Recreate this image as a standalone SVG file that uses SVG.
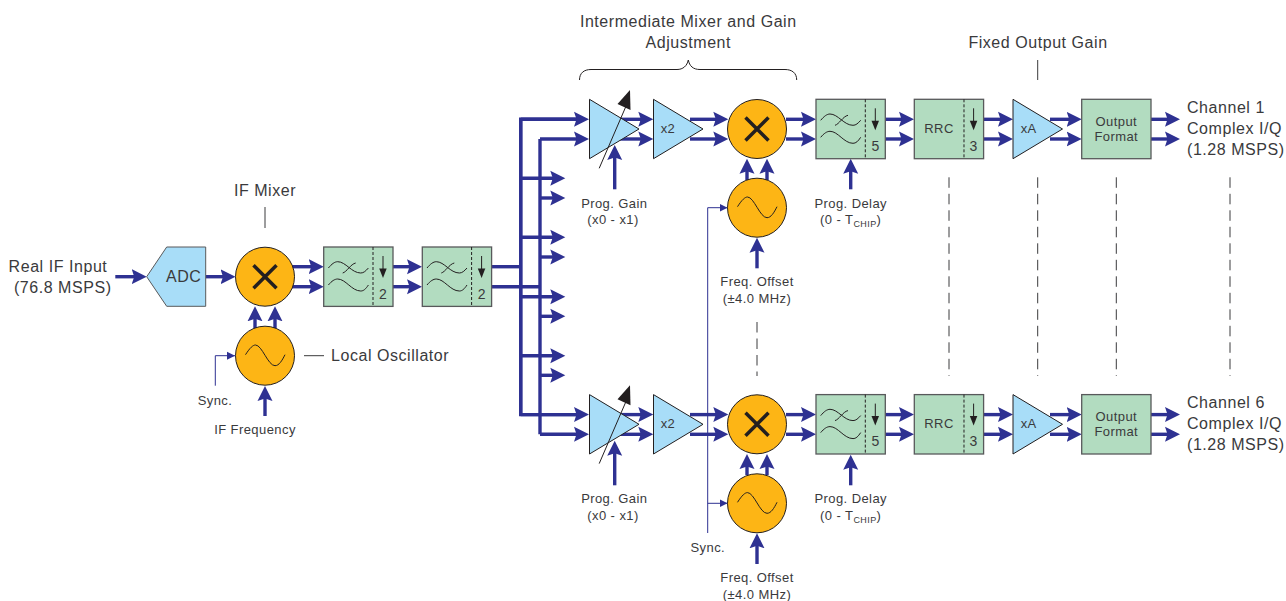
<svg xmlns="http://www.w3.org/2000/svg" xmlns:xlink="http://www.w3.org/1999/xlink" width="1286" height="601" viewBox="0 0 1286 601">
<style>
text{font-family:"Liberation Sans",Arial,sans-serif;fill:#3a3a3c}
.b{font-size:16px;letter-spacing:.55px}
.s{font-size:13px;letter-spacing:.42px}
.n{font-size:14px}
.m{text-anchor:middle}
.w{fill:none;stroke:#2e3192;stroke-width:3.4}
.wa{fill:none;stroke:#2e3192;stroke-width:3.4;marker-end:url(#ah)}
.t{fill:none;stroke:#2e3192;stroke-width:1}
.ta{fill:none;stroke:#2e3192;stroke-width:1;marker-end:url(#tah)}
.l{fill:none;stroke:#3a3a3c;stroke-width:1}
.d{fill:none;stroke:#3a3a3c;stroke-width:1;stroke-dasharray:10.5 6}
.k{fill:none;stroke:#231f20;stroke-width:1}
</style>
<defs>
<marker id="ah" markerUnits="userSpaceOnUse" markerWidth="16" markerHeight="16" viewBox="0 0 16 16" refX="5" refY="8" orient="auto"><path d="M0,.5 L15,8 L0,15.500 L2.500,8z" fill="#2e3192"/></marker>
<marker id="tah" markerUnits="userSpaceOnUse" markerWidth="9" markerHeight="9" viewBox="0 0 9 9" refX="8" refY="4.500" orient="auto"><path d="M0,.5 L8,4.500 L0,8.500z" fill="#2e3192"/></marker>
<g id="filter">
<rect x="0" y="0" width="69.300" height="59.400" fill="#b2dcc0" stroke="#58595b" stroke-width="1.300"/>
<path class="k" d="M49.300,0V59.400" stroke-dasharray="3 2"/>
<path class="k" d="M4.700,21C8,17 11,14.700 14,14.700C22,14.700 28,26 37,26C40,26 42,24 44.700,21M19,26C23,25 27,17 32,16M4.700,38C8,34 11,32 14,32C22,32 28,44 37,44C40,44 42,42 44.700,38"/>
<path class="k" d="M59.300,9V23"/><path d="M55.500,21.500H63L59.300,31z" fill="#231f20"/>
</g>
<g id="rrc">
<rect x="0" y="0" width="69.300" height="59.400" fill="#b2dcc0" stroke="#58595b" stroke-width="1.300"/>
<path class="k" d="M49.700,0V59.400" stroke-dasharray="3 2"/>
<path class="k" d="M59.300,9V23"/><path d="M55.500,21.500H63L59.300,31z" fill="#231f20"/>
</g>
<rect id="box" x="0" y="0" width="69.300" height="59.400" fill="#b2dcc0" stroke="#58595b" stroke-width="1.300"/>
<path id="amp" d="M0,0L49.500,29.700L0,59.400z" fill="#a8ddf8" stroke="#231f20" stroke-width="1"/>
<g id="mix"><circle r="29.500" fill="#fdb515" stroke="#231f20" stroke-width="1"/><path d="M-11.500,-11.500L11.500,11.500M11.500,-11.500L-11.500,11.500" stroke="#231f20" stroke-width="3.500" fill="none"/></g>
<g id="osc"><circle r="29.500" fill="#fdb515" stroke="#231f20" stroke-width="1"/><path class="k" d="M-19.500,-1C-15,-8 -12,-10.700 -9.500,-10.700C-3,-10.700 3,10 10,10C14,10 17,5 20,-1"/></g>
<g id="vg"><path class="k" d="M9.700,69.300L37,6"/><path d="M40.500,-9L41,11L28,5z" fill="#231f20"/></g>
</defs>
<g id="connectors">
<path class="wa" d="M115.300,276.700H136.700"/>
<path class="wa" d="M205.700,276.700H225.500"/>
<path class="wa" d="M290,266.700H313.700"/><path class="wa" d="M290,286.700H313.700"/>
<path class="wa" d="M393,266.700H412"/><path class="wa" d="M393,286.700H412"/>
<path class="wa" d="M255,330V316.300"/><path class="wa" d="M275,330V316.300"/>
<path class="wa" d="M265,416V396"/>
<path class="w" d="M491.700,266.700H520.700"/><path class="w" d="M491.700,286.700H540"/>
<path class="wa" d="M579,119.300H520.700V414.600H579" style="marker-end:none"/>
<path class="w" d="M520.700,119.300V414.600"/>
<path class="wa" d="M520.700,119.300H579"/><path class="wa" d="M520.700,414.600H579"/>
<path class="wa" d="M540,139H579V139"/><path class="wa" d="M540,434.300H579"/>
<path class="w" d="M540,139V434.300"/>
<path class="wa" d="M520.700,178.300H555.300"/><path class="wa" d="M540,198H555.300"/>
<path class="wa" d="M520.700,237.300H555.300"/><path class="wa" d="M540,257H555.300"/>
<path class="wa" d="M520.700,296.700H555.300"/><path class="wa" d="M540,316.300H555.300"/>
<path class="wa" d="M520.700,355.700H555.300"/><path class="wa" d="M540,375.300H555.300"/>
<path class="wa" d="M620,119.300H643.300"/><path class="wa" d="M620,139H643.300"/>
<path class="wa" d="M690,119.300H718.300"/><path class="wa" d="M690,139H718.300"/>
<path class="wa" d="M786,119.300H806"/><path class="wa" d="M786,139H806"/>
<path class="wa" d="M885.300,119.300H904"/><path class="wa" d="M885.300,139H904"/>
<path class="wa" d="M983.300,119.300H1003"/><path class="wa" d="M983.300,139H1003"/>
<path class="wa" d="M1050,119.300H1071.700"/><path class="wa" d="M1050,139H1071.700"/>
<path class="wa" d="M1151,119.300H1170"/><path class="wa" d="M1151,139H1170"/>
<path class="wa" d="M747,180V168.700"/><path class="wa" d="M767,180V168.700"/>
<path class="wa" d="M757,268.300V247.700"/>
<path class="wa" d="M614.700,189.300V155"/><path class="wa" d="M850.700,189.300V168.700"/>
<path class="wa" d="M620,414.600H643.300"/><path class="wa" d="M620,434.300H643.300"/>
<path class="wa" d="M690,414.600H718.300"/><path class="wa" d="M690,434.300H718.300"/>
<path class="wa" d="M786,414.600H806"/><path class="wa" d="M786,434.300H806"/>
<path class="wa" d="M885.300,414.600H904"/><path class="wa" d="M885.300,434.300H904"/>
<path class="wa" d="M983.300,414.600H1003"/><path class="wa" d="M983.300,434.300H1003"/>
<path class="wa" d="M1050,414.600H1071.700"/><path class="wa" d="M1050,434.300H1071.700"/>
<path class="wa" d="M1151,414.600H1170"/><path class="wa" d="M1151,434.300H1170"/>
<path class="wa" d="M747,475V464"/><path class="wa" d="M767,475V464"/>
<path class="wa" d="M757,564V543.300"/>
<path class="wa" d="M614.700,485.300V450.700"/><path class="wa" d="M850.700,485.300V464.700"/>
<path class="ta" d="M215.300,385.700V355.700H235"/>
<path class="t" d="M707.700,533V207.700"/>
<path class="ta" d="M707.700,207.700H727.500"/><path class="ta" d="M707.700,503.300H727.500"/>
<path class="l" d="M265,207V228"/><path class="l" d="M304,355.700H324"/><path class="l" d="M1037.700,60V80"/>
<path class="d" d="M757,322V376"/>
<path class="d" d="M949,177.300V376"/><path class="d" d="M1037.700,177.300V376"/><path class="d" d="M1116.300,177.300V376"/><path class="d" d="M1230,177.300V376"/>
<path class="k" d="M579.500,80C579.500,73 584,69.500 591,69.500H677C683,69.500 687,66 688.300,60C689.500,66 693,69.500 700,69.500H785C792,69.500 796.700,73 796.700,80" stroke="#3a3a3c"/>
</g>
<g id="labels">
<text class="b" x="58" y="271.700" text-anchor="middle">Real IF Input</text>
<text class="b" x="62.700" y="293" text-anchor="middle">(76.8 MSPS)</text>
<text class="b m" x="265" y="196">IF Mixer</text>
<text class="b" x="331" y="361">Local Oscillator</text>
<text class="s m" x="215" y="405">Sync.</text>
<text class="s m" x="255" y="434">IF Frequency</text>
<text class="b m" x="688.300" y="27">Intermediate Mixer and Gain</text>
<text class="b m" x="688.300" y="48">Adjustment</text>
<text class="b m" x="1038" y="48">Fixed Output Gain</text>
<text class="b" x="1187" y="113">Channel 1</text><text class="b" x="1187" y="134">Complex I/Q</text><text class="b" x="1187" y="155">(1.28 MSPS)</text>
<text class="b" x="1187" y="408.300">Channel 6</text><text class="b" x="1187" y="429.300">Complex I/Q</text><text class="b" x="1187" y="450.300">(1.28 MSPS)</text>
<text class="s m" x="614.300" y="207.700">Prog. Gain</text><text class="s m" x="613" y="224.300">(x0 - x1)</text>
<text class="s m" x="757" y="286">Freq. Offset</text><text class="s m" x="757" y="303">(±4.0 MHz)</text>
<text class="s m" x="850.700" y="207.700">Prog. Delay</text><text class="s m" x="850.700" y="224.300">(0 - T<tspan font-size="9" dy="3">CHIP</tspan><tspan dy="-3">)</tspan></text>
<text class="s m" x="614.300" y="502.700">Prog. Gain</text><text class="s m" x="613" y="520">(x0 - x1)</text>
<text class="s m" x="757" y="582">Freq. Offset</text><text class="s m" x="757" y="599">(±4.0 MHz)</text>
<text class="s m" x="850.700" y="502.700">Prog. Delay</text><text class="s m" x="850.700" y="519.700">(0 - T<tspan font-size="9" dy="3">CHIP</tspan><tspan dy="-3">)</tspan></text>
<text class="s m" x="707.800" y="551.700">Sync.</text>
</g>
<g id="adc"><path d="M146.700,276.700L166.700,247H205.700V306.300H166.700z" fill="#a8ddf8" stroke="#58595b" stroke-width="1"/><text class="b m" x="183.700" y="281.700">ADC</text></g>
<g id="if-mixer"><use href="#mix" x="265" y="276.700"/></g>
<g id="local-osc"><use href="#osc" x="265" y="355.700"/></g>
<g id="filter-a"><use href="#filter" x="323.700" y="247"/><text class="n m" x="383" y="299">2</text></g>
<g id="filter-b"><use href="#filter" x="422.300" y="247"/><text class="n m" x="481.600" y="299">2</text></g>
<g id="ch1-vga"><use href="#amp" x="589.500" y="99.300"/><use href="#vg" x="589.500" y="99"/></g>
<g id="ch1-x2"><use href="#amp" x="653.500" y="99.300"/><text class="s" x="660.700" y="132.700">x2</text></g>
<g id="ch1-mixer"><use href="#mix" x="757" y="129"/></g>
<g id="ch1-osc"><use href="#osc" x="757" y="207.700"/></g>
<g id="ch1-filter"><use href="#filter" x="816" y="99.300"/><text class="n m" x="875.300" y="151">5</text></g>
<g id="ch1-rrc"><use href="#rrc" x="914.300" y="99.300"/><text class="s m" x="939" y="132.700">RRC</text><text class="n m" x="973.500" y="151">3</text></g>
<g id="ch1-xa"><use href="#amp" x="1013" y="99.300"/><text class="s m" x="1028.700" y="132.700">xA</text></g>
<g id="ch1-out"><use href="#box" x="1081.700" y="99.300"/><text class="s m" x="1116.300" y="125.700">Output</text><text class="s m" x="1116.300" y="141">Format</text></g>
<g id="ch6-vga"><use href="#amp" x="589.500" y="394.600"/><use href="#vg" x="589.500" y="394.300"/></g>
<g id="ch6-x2"><use href="#amp" x="653.500" y="394.600"/><text class="s" x="660.700" y="428">x2</text></g>
<g id="ch6-mixer"><use href="#mix" x="757" y="424.300"/></g>
<g id="ch6-osc"><use href="#osc" x="757" y="503.300"/></g>
<g id="ch6-filter"><use href="#filter" x="816" y="394.600"/><text class="n m" x="875.300" y="446.300">5</text></g>
<g id="ch6-rrc"><use href="#rrc" x="914.300" y="394.600"/><text class="s m" x="939" y="428">RRC</text><text class="n m" x="973.500" y="446.300">3</text></g>
<g id="ch6-xa"><use href="#amp" x="1013" y="394.600"/><text class="s m" x="1028.700" y="428">xA</text></g>
<g id="ch6-out"><use href="#box" x="1081.700" y="394.600"/><text class="s m" x="1116.300" y="421">Output</text><text class="s m" x="1116.300" y="436.300">Format</text></g>
</svg>
